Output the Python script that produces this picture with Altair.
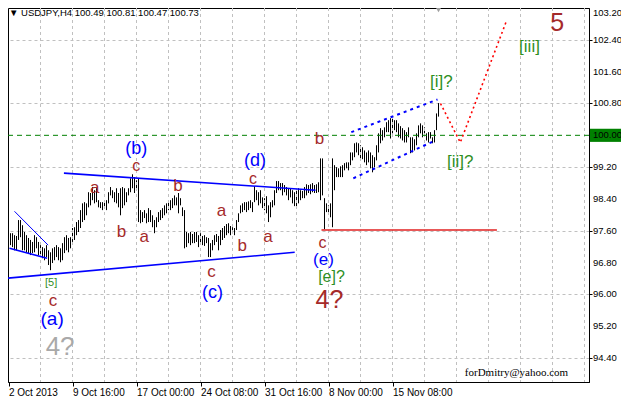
import altair as alt
import pandas as pd

# ---- OHLC bars (H4), high / low per bar ----
hi = [97.59, 97.54, 97.54, 97.49, 97.47, 97.87, 97.87, 97.74, 97.57, 97.49, 97.42, 97.37, 97.32,
      97.49, 97.44, 97.32, 97.24, 97.19, 97.16, 97.24, 97.11, 97.06, 97.16, 97.19, 97.24, 97.19,
      97.16, 97.29, 97.44, 97.49, 97.42, 97.44, 97.67, 97.69, 97.82, 97.87, 98.12, 98.29, 98.32,
      98.29, 98.57, 98.55, 98.70, 98.62, 98.67, 98.37, 98.32, 98.32, 98.37, 98.37, 98.57, 98.70,
      # segment B
      98.62, 98.57, 98.67, 98.55, 98.67, 98.70, 98.67, 98.57, 98.67, 98.92, 99.02, 98.95, 98.87,
      98.92, 98.12, 98.07, 98.12, 98.04, 98.17, 98.12, 97.99, 97.87, 97.94, 98.07, 98.12, 98.17,
      98.24, 98.29, 98.32, 98.37, 98.42, 98.49, 98.44, 98.55, 98.42, 98.19, 98.12, 97.57, 97.54,
      97.57, 97.52, 97.57, 97.57, 97.49, 97.54, 97.47, 97.49, 97.44, 97.42, 97.29, 97.37, 97.49, 97.52,
      # segment C
      97.47, 97.62, 97.67, 97.72, 97.77, 97.79, 97.72, 97.69, 97.67, 97.87, 98.04, 98.24, 98.29,
      98.32, 98.32, 98.34, 98.37, 98.32, 98.72, 98.62, 98.57, 98.62, 98.44, 98.42, 98.47, 98.24,
      98.32, 98.37, 98.62, 98.85, 98.85, 98.80, 98.80, 98.75, 98.70, 98.67, 98.65, 98.62, 98.57,
      98.62, 98.67, 98.62, 98.60, 98.70, 98.77, 98.75, 98.77, 98.80, 98.75, 98.77, 98.82,
      # segment D
      99.42, 99.42, 98.42, 98.29, 98.24, 98.29, 99.42, 99.25, 99.20, 99.17, 99.22, 99.25, 99.30,
      99.32, 99.32, 99.57, 99.57, 99.80, 99.82, 99.80, 99.75, 99.70, 99.62, 99.57, 99.62, 99.57,
      99.50, 99.45, 99.75, 100.05, 100.18, 100.13, 100.20, 100.33, 100.38, 100.43, 100.45, 100.38,
      100.38, 100.30, 100.23, 100.18, 100.13, 100.08, 100.20, 99.95, 99.95, 99.90, 100.05, 100.25,
      100.30, 100.25, 100.20, 100.05, 100.08, 100.08, 99.95, 100.13, 100.55, 100.81]
lo = [97.16, 97.24, 97.19, 97.11, 97.11, 97.37, 97.44, 97.11, 97.11, 97.06, 97.04, 96.99, 97.04,
      97.06, 97.16, 96.99, 96.94, 96.91, 96.86, 96.94, 96.74, 96.61, 96.79, 96.86, 96.94, 96.86,
      96.81, 96.86, 97.04, 97.11, 97.06, 97.16, 97.32, 97.37, 97.49, 97.57, 97.67, 97.82, 97.87,
      97.99, 98.19, 98.24, 98.37, 98.29, 98.32, 98.19, 98.17, 98.12, 98.19, 98.12, 98.29, 98.49,
      # segment B
      98.42, 98.32, 98.29, 98.19, 97.99, 98.17, 98.24, 98.32, 98.49, 98.57, 98.67, 98.55, 98.62,
      97.82, 97.79, 97.82, 97.92, 97.79, 97.82, 97.82, 97.69, 97.54, 97.69, 97.82, 97.87, 97.92,
      97.99, 98.04, 98.12, 98.12, 98.17, 98.24, 98.24, 98.04, 98.24, 97.97, 97.16, 97.19, 97.29,
      97.24, 97.29, 97.29, 97.32, 97.19, 97.29, 97.24, 97.22, 97.29, 96.94, 96.94, 97.11, 97.24, 97.32,
      # segment C
      97.11, 97.24, 97.37, 97.42, 97.49, 97.54, 97.49, 97.54, 97.49, 97.62, 97.82, 98.04, 98.07,
      98.12, 98.07, 98.12, 98.17, 98.07, 98.32, 98.37, 98.24, 98.29, 98.17, 98.12, 98.04, 97.82,
      97.94, 98.19, 98.24, 98.55, 98.62, 98.62, 98.49, 98.57, 98.49, 98.37, 98.44, 98.29, 98.22,
      98.17, 98.29, 98.37, 98.42, 98.42, 98.49, 98.55, 98.52, 98.57, 98.55, 98.55, 98.57,
      # segment D
      98.37, 98.49, 97.64, 98.07, 98.04, 97.94, 97.69, 98.62, 98.95, 98.95, 98.95, 98.95, 99.12,
      99.17, 99.12, 99.25, 99.37, 99.45, 99.57, 99.50, 99.42, 99.40, 99.32, 99.25, 99.32, 99.17,
      99.07, 99.20, 99.37, 99.57, 99.80, 99.87, 99.95, 100.08, 100.08, 99.92, 100.05, 100.13,
      100.08, 99.95, 99.92, 99.87, 99.82, 99.82, 99.95, 99.55, 99.57, 99.62, 99.75, 99.95,
      100.05, 99.95, 100.05, 99.87, 99.82, 99.92, 99.80, 99.82, 100.13, 100.47]
bar_index = list(range(len(hi)))

# ---- axes ----
y_ticks = [94.40, 95.20, 96.00, 96.80, 97.60, 98.40, 99.20, 100.00, 100.80, 101.60, 102.40, 103.20]
y_tick_labels = ["%.2f" % v for v in y_ticks]
x_tick_bars = [0, 32, 64, 96, 128, 160, 192]
x_tick_labels = ["2 Oct 2013", "9 Oct 16:00", "17 Oct 00:00", "24 Oct 08:00",
                 "31 Oct 16:00", "8 Nov 00:00", "15 Nov 08:00"]
x_grid_bars = list(range(16, 291, 16))
header = "\u25BC USDJPY,H4  100.49 100.81 100.47 100.73"

# ---- wave labels ----
ann_text = ["(b)", "c", "a", "b", "a", "b", "a", "b", "a", "c", "(c)", "(d)", "c", "b", "c",
            "(e)", "[e]?", "4?", "[i]?", "[ii]?", "[iii]", "5", "[5]", "c", "(a)", "4?"]
ann_bar = [63.9, 63.9, 43.1, 56.5, 67.9, 84.7, 106.5, 116.9, 129.8, 101.5, 102.0, 123.3, 122.3,
           155.5, 157.0, 157.5, 161.5, 160.5, 216.4, 225.9, 260.5, 274.4, 21.3, 22.3, 21.8, 25.8]
ann_price = [99.65, 99.22, 98.67, 97.57, 97.44, 98.72, 98.09, 97.21, 97.44, 96.56, 96.04, 99.35,
             98.90, 99.92, 97.30, 96.86, 96.44, 95.86, 101.35, 99.32, 102.23, 102.82, 96.29, 95.84,
             95.38, 94.68]
BLUE, BROWN, GREEN, GRAY = "#0000ff", "#a52a2a", "#2f8f1f", "#a9a9a9"
ann_color = [BLUE, BROWN, BROWN, BROWN, BROWN, BROWN, BROWN, BROWN, BROWN, BROWN, BLUE, BLUE,
             BROWN, BROWN, BROWN, BLUE, GREEN, BROWN, GREEN, GREEN, GREEN, BROWN, GREEN, BROWN,
             BLUE, GRAY]
ann_size = [18, 16, 17, 17, 17, 17, 17, 17, 17, 17, 18, 18, 16, 17, 16, 17, 16, 25, 17, 17, 17,
            25, 11, 17, 19, 26]

# ---- drawn lines ----
tri_up_bar, tri_up_price = [27.7, 153.5], [99.05, 98.62]
tri_lo_bar, tri_lo_price = [-0.25, 143.1], [96.41, 97.06]
wedge_up_bar, wedge_up_price = [3.0, 19.8], [98.09, 97.24]
wedge_lo_bar, wedge_lo_price = [0.5, 19.3], [97.16, 96.91]
chan_up_bar, chan_up_price = [171.4, 214.5], [100.08, 100.90]
chan_lo_bar, chan_lo_price = [172.4, 212.5], [98.92, 99.85]
proj_bar, proj_price = [216.0, 225.9, 249.1], [100.80, 99.82, 102.89]
level_bar, level_price = [156.5, 244.2], 97.62

# ---------------------------------------------------------------
W, H = 581, 374
RP = 32
xs = alt.Scale(domain=[-0.25, W / 2 - 0.25], nice=False, zero=False)
ys = alt.Scale(domain=[93.80, 103.2], nice=False, zero=False)
FONT = "Liberation Sans"

bars = pd.DataFrame({"i": bar_index, "hi": hi, "lo": lo})
label_expr = "[" + ",".join("'%s'" % t for t in x_tick_labels) + "][round(datum.value/32)]"


def X(f="i:Q"):
    return alt.X(f, scale=xs, title=None)


def Y(f="p:Q"):
    return alt.Y(f, scale=ys, title=None)


grid_v = alt.Chart(pd.DataFrame({"i": x_grid_bars})).mark_rule(
    color="#c0c0c0", strokeDash=[3, 3], strokeWidth=1
).encode(x=X())

bar_layer = alt.Chart(bars).mark_rule(color="black", strokeWidth=1).encode(
    x=alt.X("i:Q", scale=xs, title=None,
            axis=alt.Axis(values=x_tick_bars, labelExpr=label_expr, grid=False, tickSize=4,
                          tickColor="black", domainColor="black", labelAlign="left",
                          labelBaseline="top", labelPadding=1, labelFontSize=10, labelFont=FONT,
                          labelColor="black", labelFlush=False, labelOverlap=False)),
    y=alt.Y("lo:Q", scale=ys, title=None,
            axis=alt.Axis(orient="right", values=y_ticks, labels=False, grid=True,
                          gridColor="#c0c0c0", gridDash=[3, 3], tickSize=3, tickColor="black",
                          domainColor="black")),
    y2="hi:Q",
)

one = pd.DataFrame({"k": [0]})
level100 = alt.Chart(one).mark_rule(color="#008000", strokeDash=[5, 4], strokeWidth=1).encode(
    y=alt.datum(100.0, scale=ys, title=None))


def seg(bx, py, name):
    return pd.DataFrame({"i": bx, "p": py, "s": name})


solid = pd.concat([seg(tri_up_bar, tri_up_price, "a"), seg(tri_lo_bar, tri_lo_price, "b"),
                   seg(wedge_lo_bar, wedge_lo_price, "c")])
solid_layer = alt.Chart(solid).mark_line(color="#0000ff", strokeWidth=1.6).encode(
    x=X(), y=Y(), detail="s:N")
thin_layer = alt.Chart(seg(wedge_up_bar, wedge_up_price, "d")).mark_line(
    color="#0000ff", strokeWidth=1).encode(x=X(), y=Y())
chan = pd.concat([seg(chan_up_bar, chan_up_price, "u"), seg(chan_lo_bar, chan_lo_price, "l")])
chan_layer = alt.Chart(chan).mark_line(color="#0000ff", strokeWidth=2, strokeDash=[3, 4]).encode(
    x=X(), y=Y(), detail="s:N")
proj_layer = alt.Chart(seg(proj_bar, proj_price, "r")).mark_line(
    color="#ff0000", strokeWidth=1.6, strokeDash=[2, 3]).encode(x=X(), y=Y())
lvl = pd.DataFrame({"i": [level_bar[0]], "i2": [level_bar[1]], "p": [level_price]})
lvl_layer = alt.Chart(lvl).mark_rule(color="#e02020", strokeWidth=1.3).encode(
    x=X(), x2="i2:Q", y=Y())

ann = pd.DataFrame({"i": ann_bar, "p": ann_price, "t": ann_text, "c": ann_color, "s": ann_size})
ann_layer = alt.Chart(ann).mark_text(font=FONT, baseline="middle", align="center").encode(
    x=X(), y=Y(), text="t:N", color=alt.Color("c:N", scale=None),
    size=alt.Size("s:Q", scale=None))

email = alt.Chart(pd.DataFrame({"i": [254.0], "p": [94.03], "t": ["forDmitry@yahoo.com"]})).mark_text(
    font="Liberation Serif", fontSize=11, color="black", align="center", baseline="middle"
).encode(x=X(), y=Y(), text="t:N")

head = alt.Chart(one).mark_text(text=header, font=FONT, fontSize=9.5, color="black",
                                align="left", baseline="middle").encode(
    x=alt.value(1), y=alt.value(5))
marker = alt.Chart(pd.DataFrame({"i": [215]})).mark_point(
    shape="triangle-down", filled=True, color="#a0a0a0", size=28, opacity=1).encode(
    x=X(), y=alt.value(2))

box = alt.Chart(one).mark_rect(color="#008000").encode(
    x=alt.value(W + 1), x2=alt.value(W + RP),
    y=alt.datum(100.165, scale=ys, title=None), y2=alt.datum(99.835))
ylab_df = pd.DataFrame({"p": y_ticks[:-1], "t": y_tick_labels[:-1]})
ylab = alt.Chart(ylab_df).mark_text(
    font=FONT, fontSize=9.5, color="black", align="left", baseline="middle").encode(
    x=alt.value(W + 4), y=Y(), text="t:N")
ylab_top = alt.Chart(pd.DataFrame({"p": y_ticks[-1:], "t": y_tick_labels[-1:]})).mark_text(
    font=FONT, fontSize=9.5, color="black", align="left", baseline="top").encode(
    x=alt.value(W + 4), y=Y(), text="t:N")

chart = alt.layer(
    bar_layer, grid_v, level100, solid_layer, thin_layer, chan_layer, proj_layer, lvl_layer,
    ann_layer, email, head, marker, box, ylab, ylab_top
).properties(
    width=W, height=H,
    autosize=alt.AutoSizeParams(type="none"),
    padding={"left": 0, "top": 0, "right": RP, "bottom": 16},
).configure_view(stroke="black", strokeWidth=1)

chart.save("out.html", embed_options={"renderer": "svg", "actions": False})
